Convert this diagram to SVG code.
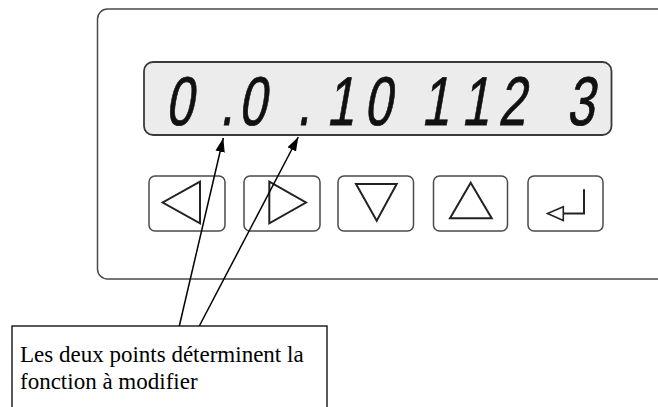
<svg xmlns="http://www.w3.org/2000/svg" width="658" height="407" viewBox="0 0 658 407">
<defs>
<style>
.panel{fill:#fff;stroke:#4a4a4a;stroke-width:1.5}
.lcd{fill:#ececec;stroke:#3a3a3a;stroke-width:1.8}
.btn{fill:#fff;stroke:#4a4a4a;stroke-width:1.5}
.ico{fill:none;stroke:#222;stroke-width:2;stroke-linejoin:miter}
.dg{font-family:"Liberation Sans",Arial,sans-serif;font-size:69px;fill:#111;stroke:#111;stroke-width:0.8;text-anchor:middle}
.cap{font-family:"Liberation Serif","Times New Roman",serif;font-size:23px;fill:#000}
.con{stroke:#000;stroke-width:1.5;fill:none}
</style>
<marker id="ah" markerUnits="userSpaceOnUse" markerWidth="15" markerHeight="10" refX="14" refY="4.75" orient="auto">
<path d="M0,0 L14,4.75 L0,9.5 z" fill="#000"/>
</marker>
</defs>
<rect width="658" height="407" fill="#fff"/>
<g id="panel">
<rect class="panel" x="97.5" y="9" width="600" height="270" rx="10"/>
</g>
<g id="display">
<rect class="lcd" x="144" y="62" width="467.5" height="73" rx="9"/>
<text class="dg" transform="translate(179,124.5) skewX(-10) scale(0.72,1)">0</text>
<text class="dg" transform="translate(226.5,124.5) skewX(-10) scale(0.72,1)">.</text>
<text class="dg" transform="translate(252,124.5) skewX(-10) scale(0.72,1)">0</text>
<text class="dg" transform="translate(303.5,124.5) skewX(-10) scale(0.72,1)">.</text>
<text class="dg" transform="translate(340,124.5) skewX(-10) scale(0.72,1)">1</text>
<text class="dg" transform="translate(377.5,124.5) skewX(-10) scale(0.72,1)">0</text>
<text class="dg" transform="translate(435,124.5) skewX(-10) scale(0.72,1)">1</text>
<text class="dg" transform="translate(475,124.5) skewX(-10) scale(0.72,1)">1</text>
<text class="dg" transform="translate(511.5,124.5) skewX(-10) scale(0.72,1)">2</text>
<text class="dg" transform="translate(580,124.5) skewX(-10) scale(0.72,1)">3</text>
</g>
<g id="btn-left">
<rect class="btn" x="149" y="176" width="76" height="55" rx="6"/>
<polygon class="ico" points="200,181.7 162.7,202.5 200,223.3"/>
</g>
<g id="btn-right">
<rect class="btn" x="244" y="176" width="76" height="55" rx="6"/>
<polygon class="ico" points="269.3,181.7 306,202.5 269.3,223.3"/>
</g>
<g id="btn-down">
<rect class="btn" x="338" y="176" width="75.5" height="55" rx="6"/>
<polygon class="ico" points="356,184 396.7,184 376.7,220.7"/>
</g>
<g id="btn-up">
<rect class="btn" x="433.5" y="176" width="74" height="55" rx="6"/>
<polygon class="ico" points="470.7,182.7 491.7,218.3 450,218.3"/>
</g>
<g id="btn-enter">
<rect class="btn" x="528" y="176" width="75" height="55" rx="6"/>
<path class="ico" d="M584,189.3 V213.5 H563.3"/>
<polygon class="ico" style="stroke-width:1.6" points="563.3,206.7 547.5,213.5 563.3,220.5"/>
</g>
<g id="note">
<rect x="12" y="326" width="315" height="100" fill="#fff" stroke="#000" stroke-width="1.3"/>
<text class="cap" x="20" y="362">Les deux points déterminent la</text>
<text class="cap" x="20" y="389">fonction à modifier</text>
</g>
<g id="connectors">
<line class="con" x1="179.3" y1="326" x2="223.3" y2="138" marker-end="url(#ah)"/>
<line class="con" x1="199.3" y1="326" x2="298.3" y2="137" marker-end="url(#ah)"/>
</g>
</svg>
